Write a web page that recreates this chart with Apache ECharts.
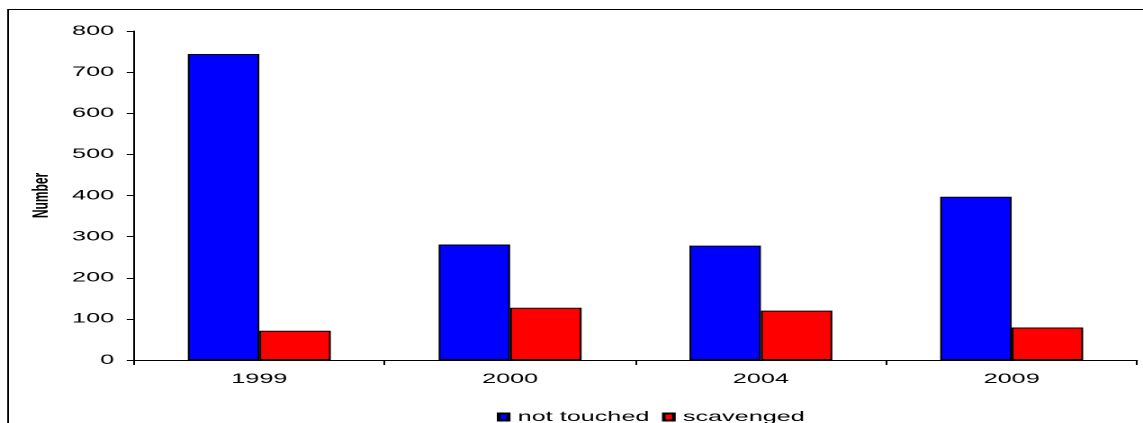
<!DOCTYPE html>
<html>
<head>
<meta charset="utf-8">
<script src="https://cdn.jsdelivr.net/npm/echarts@6/dist/echarts.min.js"></script>
<style>
  html, body { margin: 0; padding: 0; background: #fff; overflow: hidden; }
  #wrap { width: 1143px; height: 423px; overflow: hidden; }
  /* the chart is laid out narrow and widened horizontally */
  #chart { width: 635px; height: 423px; transform: scaleX(1.8); transform-origin: 0 0; }
</style>
</head>
<body>
<div id="wrap"><div id="chart"></div></div>
<script>
const years = ['1999', '2000', '2004', '2009'];
const notTouched = [744, 281, 278, 397];
const scavenged = [71, 127, 120, 79];
const yTicks = { min: 0, max: 800, interval: 100 };

const FONT = "'Liberation Sans', Arial, sans-serif";

const chart = echarts.init(document.getElementById('chart'), null, { devicePixelRatio: 2 });

chart.setOption({
  animation: false,
  backgroundColor: '#ffffff',
  graphic: [{
    type: 'rect',
    shape: { x: 4.5, y: 9.5, width: 2000, height: 2000 },
    style: { fill: 'none', stroke: '#000', lineWidth: 1 },
    silent: true
  }],
  grid: { left: 74.4, right: 3.3, top: 31, bottom: 63 },
  legend: {
    left: 271,
    top: 405,
    icon: 'rect',
    itemWidth: 5.6,
    itemHeight: 7,
    itemGap: 7,
    textStyle: { fontFamily: FONT, fontSize: 14, color: '#000' },
    data: ['not touched', 'scavenged']
  },
  xAxis: {
    type: 'category',
    data: years,
    boundaryGap: true,
    axisLine: { lineStyle: { color: '#000', width: 1 } },
    axisTick: { show: true, length: 5, inside: false, lineStyle: { color: '#000' } },
    axisLabel: { fontFamily: FONT, fontSize: 14, color: '#000', margin: 12 },
    splitLine: { show: false }
  },
  yAxis: {
    type: 'value',
    min: yTicks.min,
    max: yTicks.max,
    interval: yTicks.interval,
    name: 'Number',
    nameLocation: 'middle',
    nameGap: 45,
    nameRotate: 90,
    nameTextStyle: { fontFamily: FONT, fontSize: 12, fontWeight: 'bold', color: '#000' },
    axisLine: { show: true, lineStyle: { color: '#000', width: 1 } },
    axisTick: { show: true, length: 4, inside: false, lineStyle: { color: '#000' } },
    axisLabel: { fontFamily: FONT, fontSize: 14, color: '#000', margin: 11 },
    splitLine: { show: false }
  },
  series: [
    {
      name: 'not touched',
      type: 'bar',
      data: notTouched,
      barGap: '0%',
      barCategoryGap: '43%',
      itemStyle: { color: '#0000ff', borderColor: '#000', borderWidth: 1 }
    },
    {
      name: 'scavenged',
      type: 'bar',
      data: scavenged,
      barGap: '0%',
      barCategoryGap: '43%',
      itemStyle: { color: '#ff0000', borderColor: '#000', borderWidth: 1 }
    }
  ]
});
</script>
</body>
</html>
